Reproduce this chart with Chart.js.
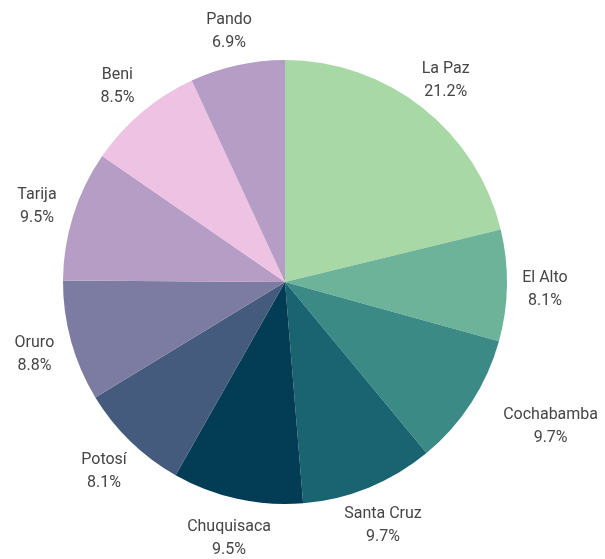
<!DOCTYPE html>
<html>
<head>
<meta charset="utf-8">
<script src="https://cdn.jsdelivr.net/npm/chart.js@4/dist/chart.umd.min.js"></script>
<style>
  html, body { margin: 0; padding: 0; background: #ffffff; }
  #wrap { width: 605px; height: 559px; position: relative; }
</style>
</head>
<body>
<div id="wrap"><canvas id="chart"></canvas></div>
<script>
// Departments and their share (%)
const departments = ["La Paz", "El Alto", "Cochabamba", "Santa Cruz", "Chuquisaca", "Potosí", "Oruro", "Tarija", "Beni", "Pando"];
const shares = [21.2, 8.1, 9.7, 9.7, 9.5, 8.1, 8.8, 9.5, 8.5, 6.9];
const sliceColors = ["#a8d8a6", "#6db399", "#3b8a85", "#196470", "#033d55", "#445b7e", "#7c7ba2", "#b69dc5", "#eec2e2", "#b69dc5"];

const LABEL_FONT = '16px Roboto, "Open Sans", sans-serif';
const LABEL_COLOR = "#454545";
const LABEL_GAP = 38;      // distance of label anchor beyond the rim
const LINE_H = 23;
const Y_NUDGE = 3;

// Draws "name / value%" outside each slice
const outsideLabels = {
  id: "outsideLabels",
  afterDatasetsDraw(chart) {
    const ctx = chart.ctx;
    const meta = chart.getDatasetMeta(0);
    ctx.save();
    ctx.font = LABEL_FONT;
    ctx.fillStyle = LABEL_COLOR;
    ctx.textBaseline = "middle";
    ctx.textAlign = "center";
    meta.data.forEach((arc, i) => {
      const { x: cx, y: cy, startAngle, endAngle, outerRadius } = arc.getProps(["x", "y", "startAngle", "endAngle", "outerRadius"], true);
      const mid = (startAngle + endAngle) / 2;
      const r = outerRadius + LABEL_GAP;
      let ax = cx + Math.cos(mid) * r;
      const ay = cy + Math.sin(mid) * r + Y_NUDGE;
      const lines = [departments[i], shares[i].toFixed(1) + "%"];
      const w = Math.max(...lines.map(t => ctx.measureText(t).width));
      const top = ay - LINE_H / 2 - 10, bottom = ay + LINE_H / 2 + 10;
      // If a centred block would cut into the pie, move it so its near edge sits on the anchor
      const left = ax - w / 2, right = ax + w / 2;
      const corners = [[left, top], [right, top], [left, bottom], [right, bottom]];
      const hits = corners.some(([px, py]) => Math.hypot(px - cx, py - cy) < outerRadius);
      if (hits) ax += (ax >= cx ? 1 : -1) * w / 2;
      lines.forEach((t, k) => {
        ctx.fillText(t, ax, ay + (k - 0.5) * LINE_H);
      });
    });
    ctx.restore();
  }
};

new Chart(document.getElementById("chart"), {
  type: "pie",
  data: {
    labels: departments,
    datasets: [{
      data: shares,
      backgroundColor: sliceColors,
      borderWidth: 0
    }]
  },
  options: {
    responsive: true,
    maintainAspectRatio: false,
    animation: false,
    layout: { padding: { left: 63, right: 98, top: 60, bottom: 55 } },
    plugins: {
      legend: { display: false },
      tooltip: { enabled: false }
    }
  },
  plugins: [outsideLabels]
});
</script>
</body>
</html>
